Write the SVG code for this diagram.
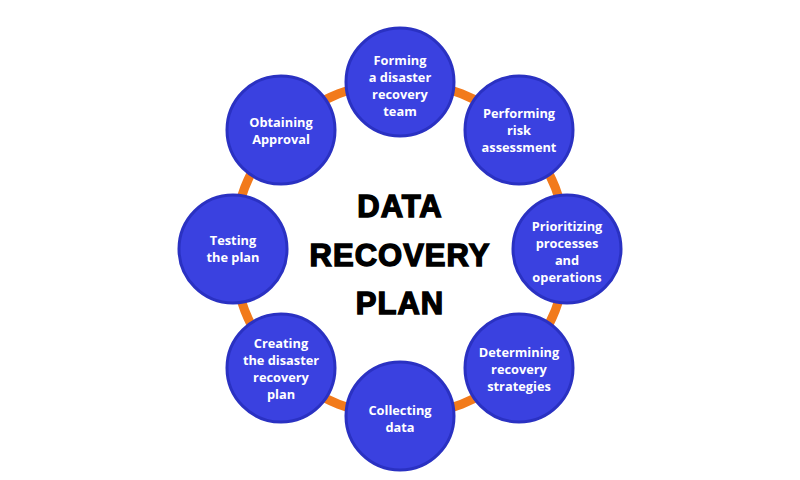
<svg xmlns="http://www.w3.org/2000/svg" width="800" height="480" viewBox="0 0 800 480">
<style>
.n{fill:#3a41e0;stroke:#2a31c2;stroke-width:3}
.t{font-family:"Open Sans","Liberation Sans",sans-serif;font-weight:700;font-size:12.8px;fill:#ffffff;text-anchor:middle}
.h{font-family:"Liberation Sans","DejaVu Sans",sans-serif;font-weight:900;font-size:31px;fill:#000;text-anchor:middle;stroke:#000;stroke-width:1.4;letter-spacing:1px}
</style>
<rect width="800" height="480" fill="#ffffff"/>
<g id="connectors">
<circle cx="400" cy="249" r="167" fill="none" stroke="#f27a1b" stroke-width="9"/>
</g>
<g id="title">
<text class="h" x="400" y="217" letter-spacing="3">DATA</text>
<text class="h" x="400" y="266">RECOVERY</text>
<text class="h" x="400" y="314" letter-spacing="2">PLAN</text>
</g>
<g id="n1"><circle class="n" cx="400" cy="82" r="54"/>
<text class="t" x="400" y="64.5">Forming</text><text class="t" x="400" y="81.5">a disaster</text><text class="t" x="400" y="98.5">recovery</text><text class="t" x="400" y="115.5">team</text></g>
<g id="n2"><circle class="n" cx="519" cy="130" r="54"/>
<text class="t" x="519" y="118">Performing</text><text class="t" x="519" y="135">risk</text><text class="t" x="519" y="152">assessment</text></g>
<g id="n3"><circle class="n" cx="567" cy="249" r="54"/>
<text class="t" x="567" y="231">Prioritizing</text><text class="t" x="567" y="248">processes</text><text class="t" x="567" y="265">and</text><text class="t" x="567" y="282">operations</text></g>
<g id="n4"><circle class="n" cx="519" cy="368" r="54"/>
<text class="t" x="519" y="357">Determining</text><text class="t" x="519" y="374">recovery</text><text class="t" x="519" y="391">strategies</text></g>
<g id="n5"><circle class="n" cx="400" cy="416" r="54"/>
<text class="t" x="400" y="415">Collecting</text><text class="t" x="400" y="432">data</text></g>
<g id="n6"><circle class="n" cx="281" cy="368" r="54"/>
<text class="t" x="281" y="348">Creating</text><text class="t" x="281" y="365">the disaster</text><text class="t" x="281" y="382">recovery</text><text class="t" x="281" y="399">plan</text></g>
<g id="n7"><circle class="n" cx="233" cy="249" r="54"/>
<text class="t" x="233" y="245">Testing</text><text class="t" x="233" y="262">the plan</text></g>
<g id="n8"><circle class="n" cx="281" cy="130" r="54"/>
<text class="t" x="281" y="127">Obtaining</text><text class="t" x="281" y="144">Approval</text></g>
</svg>
